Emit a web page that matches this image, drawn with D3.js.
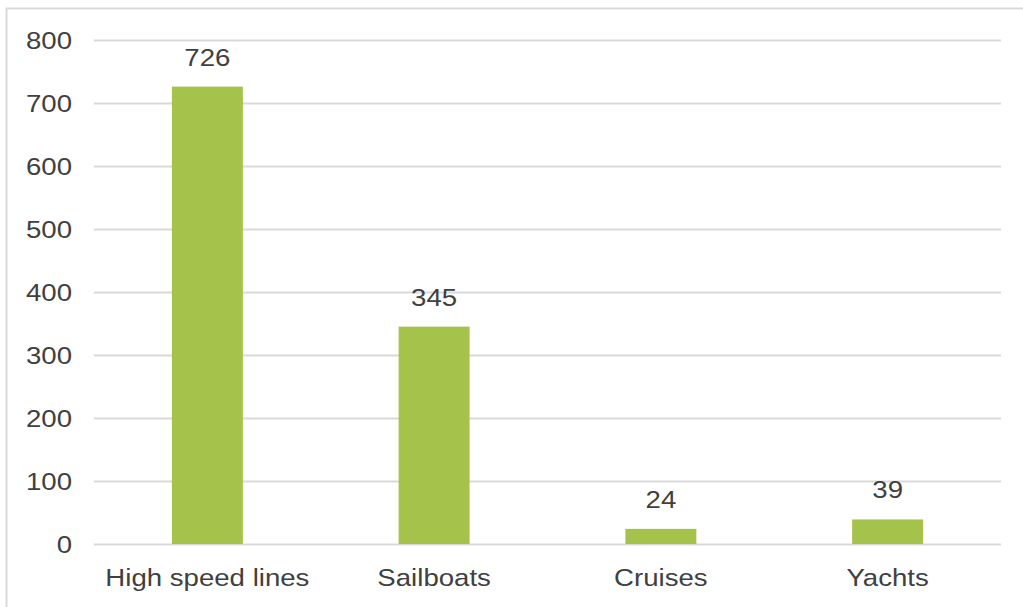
<!DOCTYPE html>
<html>
<head>
<meta charset="utf-8">
<script src="https://cdn.jsdelivr.net/npm/d3@7"></script>
<style>
  html, body { margin: 0; padding: 0; background: #fff; }
  svg { display: block; }
  text { font-family: "Liberation Sans", Arial, sans-serif; fill: #404040; }
</style>
</head>
<body>
<svg id="chart" width="1023" height="607"></svg>
<script>
// Vessel categories and counts
const categories = ["High speed lines", "Sailboats", "Cruises", "Yachts"];
const values = [726, 345, 24, 39];
const yTicks = [0, 100, 200, 300, 400, 500, 600, 700, 800];

const svg = d3.select("#chart");
const W = 1023, H = 607;
const plot = { left: 94, right: 1001, top: 40, bottom: 544 };
const fontSize = 24;
const widen = 1.15; // horizontal stretch of the label glyphs

// chart frame (top and left edges)
svg.append("path")
  .attr("d", `M6.5,${H} V8.5 H${W}`)
  .attr("fill", "none")
  .attr("stroke", "#d9d9d9")
  .attr("stroke-width", 2);

const x = d3.scaleBand()
  .domain(categories)
  .range([plot.left, plot.right])
  .paddingInner(0.687)
  .paddingOuter(0.3435);

const y = d3.scaleLinear()
  .domain([0, 800])
  .range([plot.bottom, plot.top]);

// horizontal gridlines
svg.append("g")
  .selectAll("line")
  .data(yTicks)
  .join("line")
  .attr("x1", plot.left)
  .attr("x2", plot.right)
  .attr("y1", d => Math.round(y(d)) + 0.5)
  .attr("y2", d => Math.round(y(d)) + 0.5)
  .attr("stroke", "#d9d9d9")
  .attr("stroke-width", 2);

// stretch a text element horizontally about its anchor point
function stretch(sel) {
  sel.each(function () {
    const t = d3.select(this);
    const tx = +t.attr("x") || 0;
    const ty = +t.attr("y") || 0;
    t.attr("x", 0).attr("y", 0)
      .attr("transform", `translate(${tx},${ty}) scale(${widen},1)`);
  });
}

// y axis labels
const yAxis = d3.axisLeft(y).tickValues(yTicks).tickSize(0).tickPadding(0);
const gy = svg.append("g")
  .attr("transform", `translate(72,0)`)
  .call(yAxis);
gy.select(".domain").remove();
gy.selectAll("text")
  .attr("font-size", fontSize)
  .attr("font-family", "Liberation Sans, Arial, sans-serif")
  .attr("fill", "#404040")
  .attr("dy", "0.35em")
  .call(stretch);

// x axis labels
const xAxis = d3.axisBottom(x).tickSize(0).tickPadding(0);
const gx = svg.append("g")
  .attr("transform", `translate(0,${plot.bottom + 25})`)
  .call(xAxis);
gx.select(".domain").remove();
gx.selectAll("text")
  .attr("font-size", fontSize)
  .attr("font-family", "Liberation Sans, Arial, sans-serif")
  .attr("fill", "#404040")
  .attr("dy", "0.71em")
  .call(stretch);

const data = categories.map((c, i) => ({ c, v: values[i] }));

// bars
svg.append("g")
  .selectAll("rect")
  .data(data)
  .join("rect")
  .attr("x", d => x(d.c))
  .attr("width", x.bandwidth())
  .attr("y", d => y(d.v))
  .attr("height", d => y(0) - y(d.v))
  .attr("fill", "#a5c34a");

// value labels above bars
svg.append("g")
  .selectAll("text")
  .data(data)
  .join("text")
  .attr("x", d => x(d.c) + x.bandwidth() / 2)
  .attr("y", d => y(d.v) - 21)
  .attr("text-anchor", "middle")
  .attr("font-size", fontSize)
  .text(d => d.v)
  .call(stretch);
</script>
</body>
</html>
